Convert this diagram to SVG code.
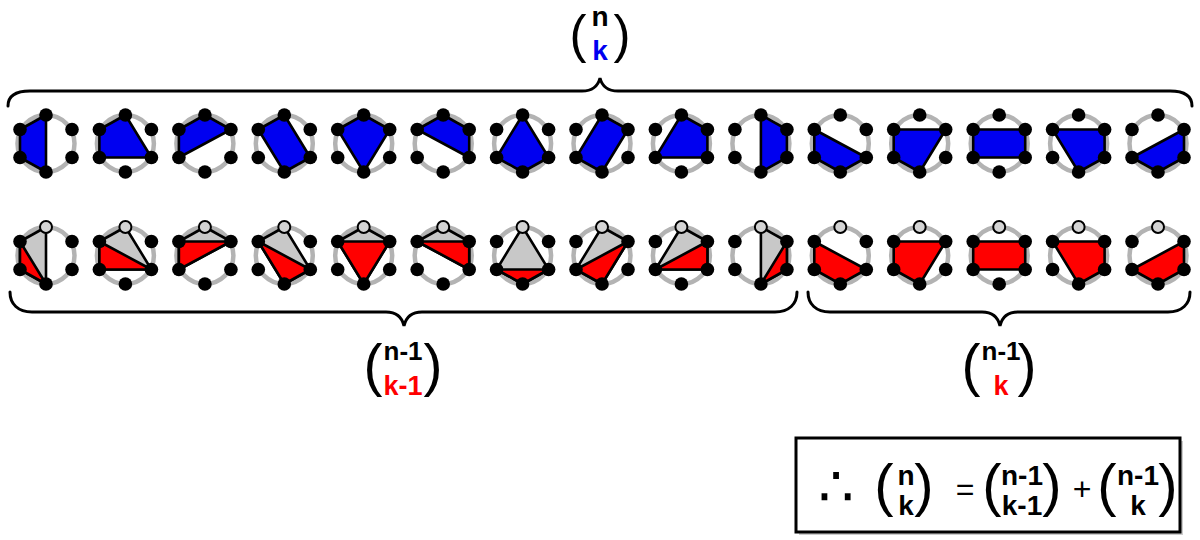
<svg xmlns="http://www.w3.org/2000/svg" xmlns:xlink="http://www.w3.org/1999/xlink" width="1200" height="540" viewBox="0 0 1200 540">
<style>
.ring{fill:none;stroke:#b3b3b3;stroke-width:4.5}
.dot{fill:#000}
.wdot{fill:#d4d4d4;stroke:#000;stroke-width:2}
.blue{fill:#0000f0;stroke:#000;stroke-width:2.6;stroke-linejoin:round}
.red{fill:#ff0000;stroke:#000;stroke-width:2.6;stroke-linejoin:round}
.gray{fill:#c8c8c8;stroke:#000;stroke-width:2.6;stroke-linejoin:round}
.brace{fill:none;stroke:#000;stroke-width:3;stroke-linecap:round}
.lbl{font-family:"Liberation Sans",Arial,sans-serif;font-weight:bold;text-anchor:middle;fill:#000}
.par{font-family:"Liberation Sans",Arial,sans-serif;font-weight:normal;text-anchor:middle;fill:#000}
.b{fill:#0000f0}
.r{fill:#ff0000}
</style>
<defs>
<circle id="ring" class="ring" r="28.5"/>
<g id="d5">
<circle class="dot" cx="26" cy="-14" r="6.8"/>
<circle class="dot" cx="26" cy="14" r="6.8"/>
<circle class="dot" cx="0" cy="28.5" r="6.8"/>
<circle class="dot" cx="-26" cy="14" r="6.8"/>
<circle class="dot" cx="-26" cy="-14" r="6.8"/>
</g>
<g id="d6"><use xlink:href="#d5"/><circle class="dot" cx="0" cy="-28.5" r="6.8"/></g>
<g id="dw"><use xlink:href="#d5"/><circle class="wdot" cx="0" cy="-28.5" r="6"/></g>
</defs>

<g id="connectors">
<path class="brace" d="M8,106 C8,96 16,91 30,91 L582,91 C593,91 598,86 600,78 C602,86 607,91 618,91 L1170,91 C1184,91 1192,96 1192,106"/>
<path class="brace" d="M10,292 C10,304 18,312 32,312 L386,312 C397,312 402,317 404,326 C406,317 411,312 422,312 L775,312 C789,312 797,304 797,292"/>
<path class="brace" d="M808,292 C808,304 816,312 830,312 L982,312 C993,312 998,317 1000,326 C1002,317 1007,312 1018,312 L1168,312 C1182,312 1190,304 1190,292"/>
</g>

<g id="top-row">
<g id="t1" transform="translate(46,143.5)"><use xlink:href="#ring"/><polygon class="blue" points="0,-28.5 0,28.5 -26,14 -26,-14"/><use xlink:href="#d6"/></g>
<g id="t2" transform="translate(125.4,143.5)"><use xlink:href="#ring"/><polygon class="blue" points="0,-28.5 26,14 -26,14 -26,-14"/><use xlink:href="#d6"/></g>
<g id="t3" transform="translate(204.9,143.5)"><use xlink:href="#ring"/><polygon class="blue" points="0,-28.5 26,-14 -26,14 -26,-14"/><use xlink:href="#d6"/></g>
<g id="t4" transform="translate(284.3,143.5)"><use xlink:href="#ring"/><polygon class="blue" points="0,-28.5 26,14 0,28.5 -26,-14"/><use xlink:href="#d6"/></g>
<g id="t5" transform="translate(363.7,143.5)"><use xlink:href="#ring"/><polygon class="blue" points="0,-28.5 26,-14 0,28.5 -26,-14"/><use xlink:href="#d6"/></g>
<g id="t6" transform="translate(443.2,143.5)"><use xlink:href="#ring"/><polygon class="blue" points="0,-28.5 26,-14 26,14 -26,-14"/><use xlink:href="#d6"/></g>
<g id="t7" transform="translate(522.6,143.5)"><use xlink:href="#ring"/><polygon class="blue" points="0,-28.5 26,14 0,28.5 -26,14"/><use xlink:href="#d6"/></g>
<g id="t8" transform="translate(602,143.5)"><use xlink:href="#ring"/><polygon class="blue" points="0,-28.5 26,-14 0,28.5 -26,14"/><use xlink:href="#d6"/></g>
<g id="t9" transform="translate(681.4,143.5)"><use xlink:href="#ring"/><polygon class="blue" points="0,-28.5 26,-14 26,14 -26,14"/><use xlink:href="#d6"/></g>
<g id="t10" transform="translate(760.9,143.5)"><use xlink:href="#ring"/><polygon class="blue" points="0,-28.5 26,-14 26,14 0,28.5"/><use xlink:href="#d6"/></g>
<g id="t11" transform="translate(840.3,143.5)"><use xlink:href="#ring"/><polygon class="blue" points="26,14 0,28.5 -26,14 -26,-14"/><use xlink:href="#d6"/></g>
<g id="t12" transform="translate(919.7,143.5)"><use xlink:href="#ring"/><polygon class="blue" points="26,-14 0,28.5 -26,14 -26,-14"/><use xlink:href="#d6"/></g>
<g id="t13" transform="translate(999.2,143.5)"><use xlink:href="#ring"/><polygon class="blue" points="26,-14 26,14 -26,14 -26,-14"/><use xlink:href="#d6"/></g>
<g id="t14" transform="translate(1078.6,143.5)"><use xlink:href="#ring"/><polygon class="blue" points="26,-14 26,14 0,28.5 -26,-14"/><use xlink:href="#d6"/></g>
<g id="t15" transform="translate(1158,143.5)"><use xlink:href="#ring"/><polygon class="blue" points="26,-14 26,14 0,28.5 -26,14"/><use xlink:href="#d6"/></g>
</g>

<g id="bottom-row">
<g id="b1" transform="translate(46,255.5)"><use xlink:href="#ring"/><polygon class="gray" points="0,-28.5 0,28.5 -26,14 -26,-14"/><polygon class="red" points="0,28.5 -26,14 -26,-14"/><use xlink:href="#dw"/></g>
<g id="b2" transform="translate(125.4,255.5)"><use xlink:href="#ring"/><polygon class="gray" points="0,-28.5 26,14 -26,14 -26,-14"/><polygon class="red" points="26,14 -26,14 -26,-14"/><use xlink:href="#dw"/></g>
<g id="b3" transform="translate(204.9,255.5)"><use xlink:href="#ring"/><polygon class="gray" points="0,-28.5 26,-14 -26,14 -26,-14"/><polygon class="red" points="26,-14 -26,14 -26,-14"/><use xlink:href="#dw"/></g>
<g id="b4" transform="translate(284.3,255.5)"><use xlink:href="#ring"/><polygon class="gray" points="0,-28.5 26,14 0,28.5 -26,-14"/><polygon class="red" points="26,14 0,28.5 -26,-14"/><use xlink:href="#dw"/></g>
<g id="b5" transform="translate(363.7,255.5)"><use xlink:href="#ring"/><polygon class="gray" points="0,-28.5 26,-14 0,28.5 -26,-14"/><polygon class="red" points="26,-14 0,28.5 -26,-14"/><use xlink:href="#dw"/></g>
<g id="b6" transform="translate(443.2,255.5)"><use xlink:href="#ring"/><polygon class="gray" points="0,-28.5 26,-14 26,14 -26,-14"/><polygon class="red" points="26,-14 26,14 -26,-14"/><use xlink:href="#dw"/></g>
<g id="b7" transform="translate(522.6,255.5)"><use xlink:href="#ring"/><polygon class="gray" points="0,-28.5 26,14 0,28.5 -26,14"/><polygon class="red" points="26,14 0,28.5 -26,14"/><use xlink:href="#dw"/></g>
<g id="b8" transform="translate(602,255.5)"><use xlink:href="#ring"/><polygon class="gray" points="0,-28.5 26,-14 0,28.5 -26,14"/><polygon class="red" points="26,-14 0,28.5 -26,14"/><use xlink:href="#dw"/></g>
<g id="b9" transform="translate(681.4,255.5)"><use xlink:href="#ring"/><polygon class="gray" points="0,-28.5 26,-14 26,14 -26,14"/><polygon class="red" points="26,-14 26,14 -26,14"/><use xlink:href="#dw"/></g>
<g id="b10" transform="translate(760.9,255.5)"><use xlink:href="#ring"/><polygon class="gray" points="0,-28.5 26,-14 26,14 0,28.5"/><polygon class="red" points="26,-14 26,14 0,28.5"/><use xlink:href="#dw"/></g>
<g id="b11" transform="translate(840.3,255.5)"><use xlink:href="#ring"/><polygon class="red" points="26,14 0,28.5 -26,14 -26,-14"/><use xlink:href="#dw"/></g>
<g id="b12" transform="translate(919.7,255.5)"><use xlink:href="#ring"/><polygon class="red" points="26,-14 0,28.5 -26,14 -26,-14"/><use xlink:href="#dw"/></g>
<g id="b13" transform="translate(999.2,255.5)"><use xlink:href="#ring"/><polygon class="red" points="26,-14 26,14 -26,14 -26,-14"/><use xlink:href="#dw"/></g>
<g id="b14" transform="translate(1078.6,255.5)"><use xlink:href="#ring"/><polygon class="red" points="26,-14 26,14 0,28.5 -26,-14"/><use xlink:href="#dw"/></g>
<g id="b15" transform="translate(1158,255.5)"><use xlink:href="#ring"/><polygon class="red" points="26,-14 26,14 0,28.5 -26,14"/><use xlink:href="#dw"/></g>
</g>

<g id="label-n-k">
<text class="par" x="578" y="52" font-size="51">(</text>
<text class="par" x="622" y="52" font-size="51">)</text>
<text class="lbl" x="600" y="26" font-size="28">n</text>
<text class="lbl b" x="600" y="60" font-size="28">k</text>
</g>

<g id="label-n1-k1">
<text class="par" x="373" y="385" font-size="57">(</text>
<text class="par" x="433" y="385" font-size="57">)</text>
<text class="lbl" x="403" y="360" font-size="26">n-1</text>
<text class="lbl r" x="403" y="395" font-size="27">k-1</text>
</g>

<g id="label-n1-k">
<text class="par" x="971" y="385" font-size="57">(</text>
<text class="par" x="1027" y="385" font-size="57">)</text>
<text class="lbl" x="1001" y="360" font-size="26">n-1</text>
<text class="lbl r" x="1001" y="395" font-size="27">k</text>
</g>

<g id="formula">
<rect x="799" y="441" width="384" height="94" fill="#9a9a9a" opacity="0.5"/>
<rect x="796" y="438" width="384" height="94" fill="#fff" stroke="#000" stroke-width="3"/>
<text x="836" y="506" font-family="DejaVu Sans, sans-serif" font-size="56" text-anchor="middle">∴</text>
<text class="par" x="884" y="505" font-size="58">(</text>
<text class="par" x="924" y="505" font-size="58">)</text>
<text class="lbl" x="906" y="485" font-size="28">n</text>
<text class="lbl" x="906" y="515" font-size="28">k</text>
<text class="par" x="965" y="500" font-size="32">=</text>
<text class="par" x="992" y="505" font-size="58">(</text>
<text class="par" x="1052" y="505" font-size="58">)</text>
<text class="lbl" x="1022" y="485" font-size="28">n-1</text>
<text class="lbl" x="1022" y="515" font-size="28">k-1</text>
<text class="par" x="1082" y="500" font-size="32">+</text>
<text class="par" x="1107" y="505" font-size="58">(</text>
<text class="par" x="1168" y="505" font-size="58">)</text>
<text class="lbl" x="1138" y="485" font-size="28">n-1</text>
<text class="lbl" x="1138" y="515" font-size="28">k</text>
</g>
</svg>
